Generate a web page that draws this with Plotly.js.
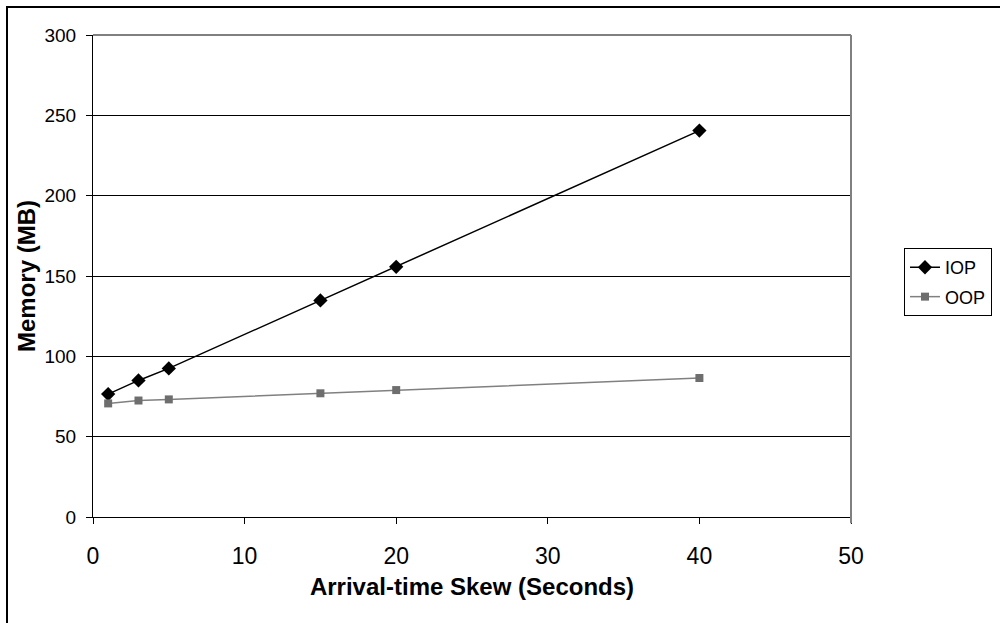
<!DOCTYPE html>
<html>
<head>
<meta charset="utf-8">
<script src="https://cdn.plot.ly/plotly-3.0.1.min.js"></script>
<style>
  html, body { margin: 0; padding: 0; background: #fff; }
  #wrap { position: relative; width: 1000px; height: 623px; overflow: hidden; }
  #chart { position: absolute; left: 0; top: 0; width: 1000px; height: 623px; }
  #frame { position: absolute; left: 6px; top: 6px; width: 1100px; height: 700px;
           border-top: 2px solid #000; border-left: 2px solid #000; pointer-events: none; }
</style>
</head>
<body>
<div id="wrap">
  <div id="chart"></div>
  <div id="frame"></div>
</div>
<script>
// Data
const skewSeconds = [1, 3, 5, 15, 20, 40];
const iopMemory   = [76.5, 85, 92.5, 134.8, 155.7, 240.5];
const oopMemory   = [70.7, 72.5, 73.2, 77, 79, 86.5];
const seriesNames = ['IOP', 'OOP'];
const xTickVals   = [0, 10, 20, 30, 40, 50];
const yTickVals   = [0, 50, 100, 150, 200, 250, 300];

const FONT = 'Arial, "Liberation Sans", sans-serif';

const traces = [
  {
    x: skewSeconds, y: iopMemory, name: seriesNames[0], type: 'scatter', mode: 'lines+markers',
    legendgroup: 'g1',
    line: { color: '#000000', width: 1.5 },
    marker: { symbol: 'diamond', size: 11, color: '#000000' }
  },
  {
    x: skewSeconds, y: oopMemory, name: seriesNames[1], type: 'scatter', mode: 'lines+markers',
    legendgroup: 'g2',
    line: { color: '#808080', width: 1.5 },
    marker: { symbol: 'square', size: 8, color: '#6e6e6e' }
  }
];

const layout = {
  width: 1000, height: 623,
  margin: { l: 93, r: 149, t: 35, b: 106, autoexpand: false },
  paper_bgcolor: '#ffffff', plot_bgcolor: '#ffffff',
  font: { family: FONT, color: '#000' },
  showlegend: true,
  legend: {
    x: 1.0699, y: 0.558, xanchor: 'left', yanchor: 'top',
    bgcolor: '#ffffff', bordercolor: '#000000', borderwidth: 1,
    font: { family: FONT, size: 18, color: '#000' },
    traceorder: 'grouped', tracegroupgap: 3,
    entrywidth: 120
  },
  xaxis: {
    range: [0, 50], tickvals: xTickVals, ticktext: xTickVals.map(String),
    showgrid: false, zeroline: false, automargin: false,
    showline: true, linecolor: '#000', linewidth: 1,
    ticks: 'outside', ticklen: 6, tickcolor: '#000',
    tickfont: { family: FONT, size: 23, color: '#000' },
    ticklabelstandoff: 12,
    title: { text: 'Arrival-time Skew (Seconds)', standoff: 10,
             font: { family: FONT, size: 24, color: '#000', weight: 'bold' } },
    fixedrange: true
  },
  yaxis: {
    range: [0, 300], tickvals: yTickVals, ticktext: yTickVals.map(String),
    showgrid: true, gridcolor: '#000', gridwidth: 1, zeroline: false, automargin: false,
    showline: true, linecolor: '#000', linewidth: 1,
    ticks: 'outside', ticklen: 6, tickcolor: '#000',
    tickfont: { family: FONT, size: 19, color: '#000' },
    ticklabelstandoff: 6,
    title: { text: 'Memory (MB)', standoff: 2,
             font: { family: FONT, size: 24, color: '#000', weight: 'bold' } },
    fixedrange: true
  },
  shapes: [
    { type: 'line', xref: 'paper', yref: 'paper', x0: 0, x1: 1, y0: 1, y1: 1,
      line: { color: '#808080', width: 2 }, layer: 'above' },
    { type: 'line', xref: 'paper', yref: 'paper', x0: 1, x1: 1, y0: 1, y1: 0,
      line: { color: '#808080', width: 2 }, layer: 'above' },
    { type: 'line', xref: 'paper', yref: 'paper', x0: 1, x1: 1, y0: 0, y1: -0.013,
      line: { color: '#808080', width: 2 }, layer: 'above' }
  ]
};

Plotly.newPlot('chart', traces, layout, { displayModeBar: false, staticPlot: true });
</script>
</body>
</html>
